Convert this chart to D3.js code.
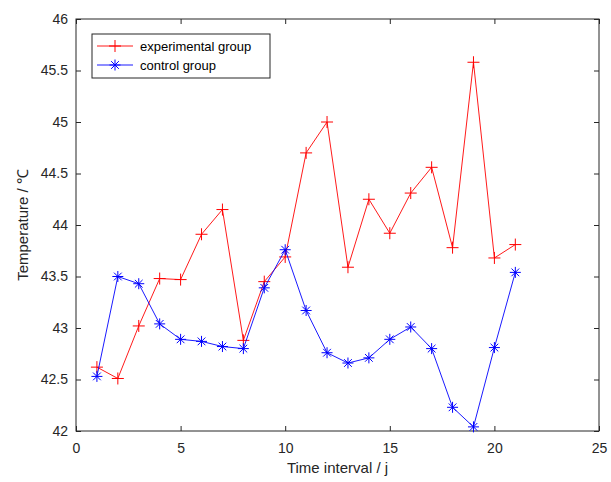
<!DOCTYPE html>
<html>
<head>
<meta charset="utf-8">
<script src="https://d3js.org/d3.v7.min.js"></script>
<style>
  body { margin: 0; background: #fff; }
  text { font-family: "Liberation Sans", Arial, sans-serif; }
</style>
</head>
<body>
<script>
//time intervals and temperatures
var intervals = [1,2,3,4,5,6,7,8,9,10,11,12,13,14,15,16,17,18,19,20,21];
var experimental = [42.62,42.51,43.02,43.48,43.47,43.91,44.15,42.88,43.45,43.69,44.70,45.00,43.59,44.25,43.92,44.31,44.56,43.78,45.58,43.68,43.81];
var control = [42.53,43.50,43.43,43.04,42.89,42.87,42.82,42.80,43.39,43.76,43.17,42.76,42.66,42.71,42.89,43.01,42.80,42.23,42.04,42.81,43.54];
var xTicks = [0,5,10,15,20,25];
var yTicks = [42,42.5,43,43.5,44,44.5,45,45.5,46];
var seriesNames = ["experimental group", "control group"];
var seriesColors = ["#ff0000", "#0000ff"];

var width = 611, height = 482;
var plotLeft = 76, plotRight = 599, plotTop = 19, plotBottom = 431;

var svg = d3.select("body").append("svg")
    .attr("width", width)
    .attr("height", height);

var x = d3.scaleLinear().domain([0, 25]).range([plotLeft, plotRight]);
var y = d3.scaleLinear().domain([42, 46]).range([plotBottom, plotTop]);

var axisColor = "#262626";

//plot box
svg.append("rect")
    .attr("x", plotLeft).attr("y", plotTop)
    .attr("width", plotRight - plotLeft).attr("height", plotBottom - plotTop)
    .attr("fill", "none").attr("stroke", axisColor).attr("stroke-width", 1);

//axes with inward ticks (bottom/left labelled, top/right bare)
var xAxis = svg.append("g").attr("transform", "translate(0," + plotBottom + ")")
    .call(d3.axisBottom(x).tickValues(xTicks).tickSizeInner(-5).tickSizeOuter(0).tickPadding(12));
var xTop = svg.append("g").attr("transform", "translate(0," + plotTop + ")")
    .call(d3.axisTop(x).tickValues(xTicks).tickSizeInner(-5).tickSizeOuter(0).tickFormat(""));
var yAxis = svg.append("g").attr("transform", "translate(" + plotLeft + ",0)")
    .call(d3.axisLeft(y).tickValues(yTicks).tickSizeInner(-5).tickSizeOuter(0).tickPadding(8).tickFormat(d3.format("")));
var yRight = svg.append("g").attr("transform", "translate(" + plotRight + ",0)")
    .call(d3.axisRight(y).tickValues(yTicks).tickSizeInner(-5).tickSizeOuter(0).tickFormat(""));

[xAxis, xTop, yAxis, yRight].forEach(function(g){
    g.select(".domain").remove();
    g.selectAll("line").attr("stroke", axisColor);
    g.selectAll("text").attr("fill", axisColor).style("font-size", "14px")
        .style("font-family", "'Liberation Sans', Arial, sans-serif");
});

//axis titles
svg.append("text")
    .attr("x", (plotLeft + plotRight) / 2).attr("y", 473)
    .attr("text-anchor", "middle").attr("fill", axisColor)
    .style("font-size", "15px")
    .text("Time interval / j");
svg.append("text")
    .attr("transform", "translate(28," + ((plotTop + plotBottom) / 2) + ") rotate(-90)")
    .attr("text-anchor", "middle").attr("fill", axisColor)
    .style("font-size", "15px")
    .text("Temperature / ℃");

var line = d3.line()
    .x(function(d, i){ return x(intervals[i]); })
    .y(function(d){ return y(d); });

//marker shapes
function plusPath(s){ return "M" + (-s) + ",0H" + s + "M0," + (-s) + "V" + s; }
function starPath(s){
    var d = s * 0.7;
    return "M" + (-s) + ",0H" + s + "M0," + (-s) + "V" + s +
        "M" + (-d) + "," + (-d) + "L" + d + "," + d +
        "M" + (-d) + "," + d + "L" + d + "," + (-d);
}
var markers = [plusPath(6), starPath(5.5)];

[experimental, control].forEach(function(values, k){
    svg.append("path")
        .datum(values)
        .attr("class", "series")
        .attr("d", line)
        .attr("fill", "none")
        .attr("stroke", seriesColors[k])
        .attr("stroke-width", 0.9);
    svg.selectAll(".marker" + k)
        .data(values)
        .enter()
        .append("path")
        .attr("class", "marker" + k)
        .attr("transform", function(d, i){ return "translate(" + x(intervals[i]) + "," + y(d) + ")"; })
        .attr("d", markers[k])
        .attr("fill", "none")
        .attr("stroke", seriesColors[k])
        .attr("stroke-width", 1);
});

//legend
var legend = svg.append("g");
legend.append("rect")
    .attr("x", 92).attr("y", 34).attr("width", 178).attr("height", 44)
    .attr("fill", "#fff").attr("stroke", axisColor).attr("stroke-width", 1);
seriesNames.forEach(function(name, k){
    var ly = 46 + k * 19;
    legend.append("line")
        .attr("x1", 97).attr("x2", 133).attr("y1", ly).attr("y2", ly)
        .attr("stroke", seriesColors[k]).attr("stroke-width", 0.9);
    legend.append("path")
        .attr("transform", "translate(115," + ly + ")")
        .attr("d", markers[k])
        .attr("fill", "none").attr("stroke", seriesColors[k]).attr("stroke-width", 1);
    legend.append("text")
        .attr("x", 140).attr("y", ly + 4.5)
        .attr("fill", "#000")
        .style("font-size", "13px")
        .text(name);
});
</script>
</body>
</html>
